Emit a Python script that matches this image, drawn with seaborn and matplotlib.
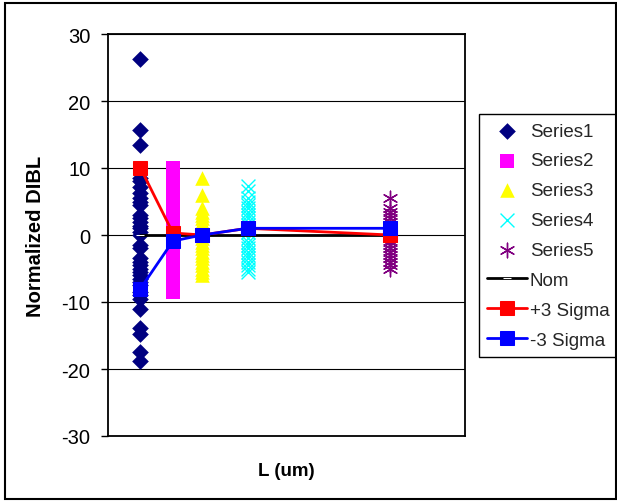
import matplotlib
matplotlib.use("Agg")
import matplotlib.pyplot as plt
import seaborn as sns
import pandas as pd
from matplotlib.patches import Rectangle

sns.set_theme(style="white")
plt.rcParams["font.family"] = ["Liberation Sans", "DejaVu Sans"]

# ---------------- data ----------------
L_values = [0.10, 0.20, 0.29, 0.43, 0.87]
series_names = ["Series1", "Series2", "Series3", "Series4", "Series5"]

series1 = [26.3, 15.6, 13.5, 8.5, 8.0, 7.2, 6.3, 5.5, 5.0, 4.5, 3.0, 2.5, 2.0,
           1.3, 1.0, 0.5, 0.0, -1.5, -2.0, -3.5, -4.0, -4.5, -5.0, -5.5, -6.0,
           -6.5, -7.0, -7.5, -8.5, -9.0, -9.5, -11.0, -13.9, -14.8, -17.5, -18.8]
series2 = [10.0, 9.5, 9.0, 8.5, 8.0, 7.5, 7.0, 6.5, 6.0, 5.5, 5.0, 4.5, 4.0,
           3.5, 3.0, 2.5, 2.0, 1.5, 1.0, 0.5, 0.0, -0.5, -1.0, -1.5, -2.0, -2.5,
           -3.0, -3.5, -4.0, -4.5, -5.0, -5.5, -6.0, -6.5, -7.0, -7.5, -8.0, -8.5]
series3 = [8.5, 6.0, 4.0, 3.5, 3.0, 2.5, 2.0, 1.5, 1.0, 0.5, 0.0, -0.5, -1.0,
           -1.5, -2.0, -2.5, -3.0, -3.5, -4.0, -4.5, -5.0, -5.5, -6.0]
series4 = [7.3, 6.5, 5.5, 5.0, 4.5, 4.0, 3.5, 3.0, 2.5, 2.0, 1.5, 1.0, 0.5,
           -0.5, -1.0, -1.5, -2.0, -2.5, -3.0, -3.5, -4.0, -4.5, -5.0, -5.5]
series5 = [5.5, 4.0, 3.5, 3.0, 2.5, 2.0, 1.5, 1.0, 0.5, 0.0, -0.5, -1.0, -1.5,
           -2.0, -2.5, -3.0, -3.5, -4.0, -4.5, -5.0]
nom = [0, 0, 0, 0, 0]
plus3_sigma = [10.0, 0.3, 0.0, 1.0, 0.0]
minus3_sigma = [-8.0, -0.9, 0.0, 1.0, 1.0]

y_ticks = [-30, -20, -10, 0, 10, 20, 30]

# ---------------- figure ----------------
W, H = 617, 502
fig = plt.figure(figsize=(W / 100, H / 100), dpi=100)
fig.patch.set_facecolor("white")
ax = fig.add_axes([108 / W, 1 - 437 / H, (465 - 108) / W, (437 - 35) / H])
ax.set_facecolor("white")

rows = []
for name, vals, L in zip(series_names,
                         [series1, series2, series3, series4, series5],
                         L_values):
    for v in vals:
        rows.append({"series": name, "L": L, "value": v})
df = pd.DataFrame(rows)

styles = {
    "Series1": dict(marker="D", color="#000080", s=72, edgecolor="#000080", linewidth=0),
    "Series2": dict(marker="s", color="#FF00FF", s=90, edgecolor="#FF00FF", linewidth=0),
    "Series3": dict(marker="^", color="#FFFF00", s=110, edgecolor="#FFFF00", linewidth=0),
    "Series4": dict(marker="x", color="#00FFFF", s=100, linewidth=1.0),
    "Series5": dict(marker=(6, 2, 0), color="#800080", s=110, linewidth=1.0),
}

for name in series_names:
    sub = df[df["series"] == name]
    sns.scatterplot(data=sub, x="L", y="value", label=name, ax=ax,
                    zorder=3, **styles[name])

sns.lineplot(x=L_values, y=nom, color="black", linewidth=2, marker="_",
             markersize=6, label="Nom", ax=ax, zorder=4)
sns.lineplot(x=L_values, y=plus3_sigma, color="#FF0000", linewidth=2,
             marker="s", markersize=9.5, markeredgecolor="#FF0000",
             label="+3 Sigma", ax=ax, zorder=5)
sns.lineplot(x=L_values, y=minus3_sigma, color="#0000FF", linewidth=2,
             marker="s", markersize=9.5, markeredgecolor="#0000FF",
             label="-3 Sigma", ax=ax, zorder=6)

ax.set_xlim(0, 1.1)
ax.set_ylim(-30, 30)
ax.set_yticks(y_ticks)
ax.set_yticklabels([str(t) for t in y_ticks])
ax.yaxis.grid(True, color="black", linewidth=0.8)
ax.xaxis.grid(False)
ax.set_axisbelow(True)

ax.tick_params(axis="y", left=True, length=4.7, width=1, color="black",
               labelsize=14.5, pad=8, labelcolor="black")
ax.tick_params(axis="x", bottom=False, labelbottom=False)
for sp in ax.spines.values():
    sp.set_visible(True)
    sp.set_color("black")
    sp.set_linewidth(1.3)

ax.set_ylabel("Normalized DIBL", fontsize=14.5, fontweight="bold", color="black")
ax.yaxis.set_label_coords(-0.176, 0.5)
ax.set_xlabel("L (um)", fontsize=13.5, fontweight="bold", color="black")
ax.xaxis.set_label_coords(0.5, -0.065)

leg = ax.legend(loc="upper left", bbox_to_anchor=(479 / W, 1 - 115 / H),
                bbox_transform=fig.transFigure, frameon=True, fancybox=False,
                edgecolor="black", framealpha=1, fontsize=13.5,
                labelspacing=0.68, handlelength=2.1, handletextpad=0.15,
                borderpad=0.45, borderaxespad=0, scatterpoints=1, numpoints=1)
leg.get_frame().set_linewidth(1.0)

fig.patches.append(Rectangle((4.5 / W, 2 / H), (615.5 - 4.5) / W, (498 - 2) / H,
                             transform=fig.transFigure, fill=False,
                             edgecolor="black", linewidth=1.5))

fig.savefig("out.png", dpi=100)
